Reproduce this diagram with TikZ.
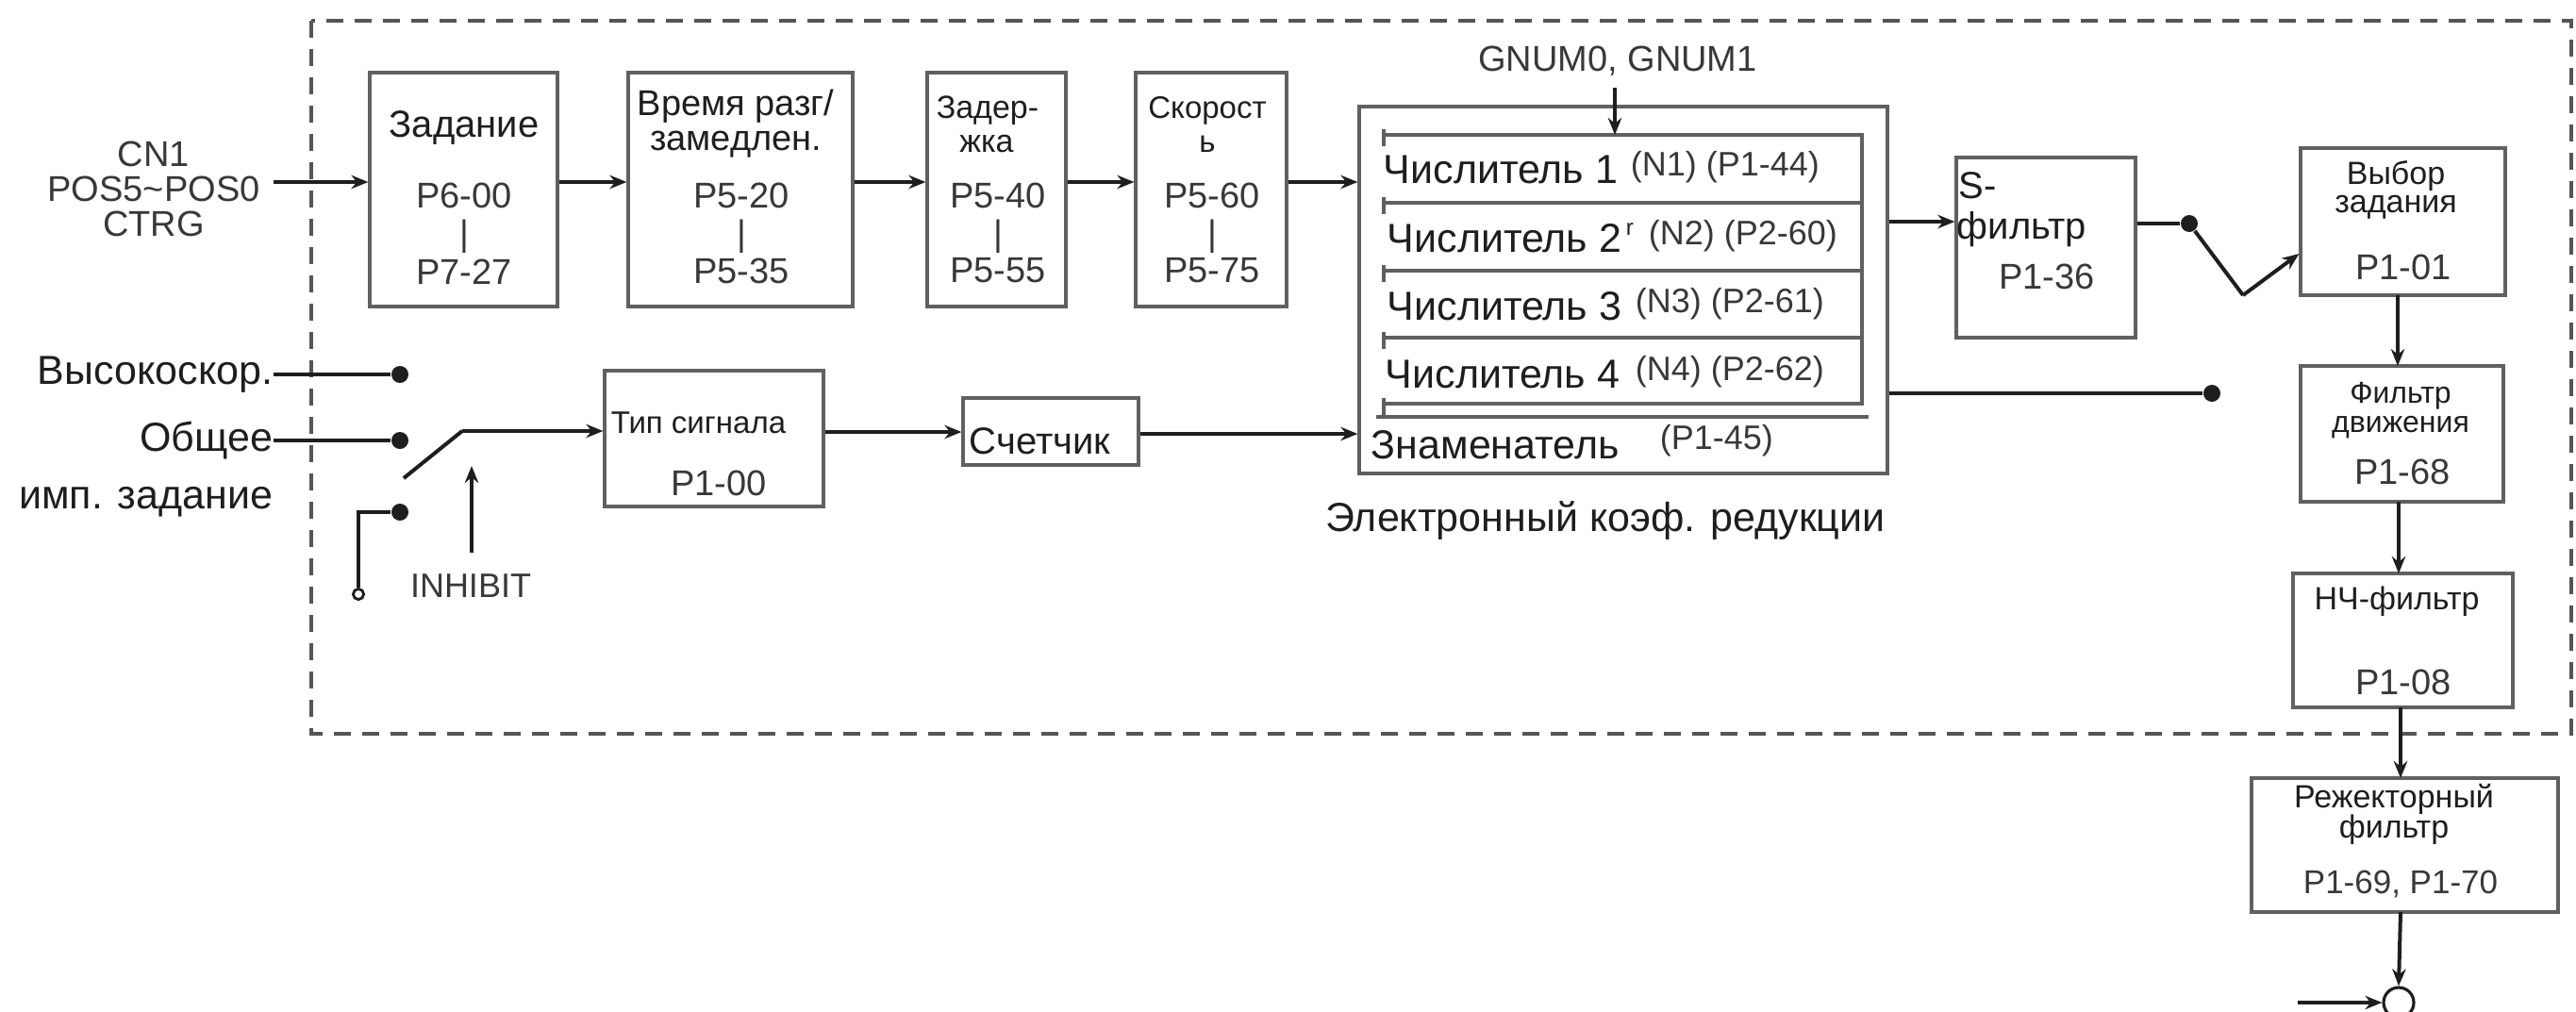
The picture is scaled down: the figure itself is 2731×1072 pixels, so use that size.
\documentclass[tikz,border=0pt]{standalone}
\usepackage{fontspec}
\setmainfont{Liberation Sans}
\usetikzlibrary{arrows.meta,fit,calc}
\definecolor{ink}{HTML}{1E1E1E}
\definecolor{par}{HTML}{383838}
\definecolor{boxc}{HTML}{606060}
\definecolor{dashc}{HTML}{555555}
\newcommand{\myfs}[1]{\fontsize{#1pt}{#1pt}\selectfont}
\begin{document}
\begin{tikzpicture}[x=0.25pt,y=-0.25pt,
  blk/.style={draw=boxc, line width=0.8pt, inner sep=0pt},
  tx/.style={inner sep=0pt, text=ink},
  big/.style={tx, font=\myfs{10.75}},
  mid/.style={tx, font=\myfs{9.5}},
  sml/.style={tx, font=\myfs{8.5}},
  prm/.style={inner sep=0pt, text=par, font=\myfs{9.5}},
  nprm/.style={inner sep=0pt, text=par, font=\myfs{9}},
  arr/.style={draw=ink, line width=1pt, -{Stealth[length=4.5pt,width=3.6pt]}},
  wire/.style={draw=ink, line width=1pt},
  dot/.style={circle, fill=ink, inner sep=0pt, minimum size=4.5pt},
  dashbox/.style={draw=dashc, line width=1pt, dash pattern=on 4.5pt off 3pt}
]
\path[use as bounding box] (0,0) rectangle (2731,1072);

% dashed frame
\draw[dashbox] (330,22) rectangle (2726,778);

% row reference coordinates
\coordinate (rowA) at (0,193);
\coordinate (rowB) at (0,458);

% CN1 input
\node[prm, align=center, font=\fontsize{9.5pt}{9.25pt}\selectfont] (cn) at (163,200) {CN1\\POS5\textasciitilde POS0\\CTRG};

% top chain boxes
\node[blk, fit={(392,77) (591,325)}] (zad) {};
\node[mid, font=\myfs{10}] (zadT) at (492,136) {Задание};
\node[prm] (zadP1) at (492,207) {P6-00};
\node[prm] (zadP2) at (492,251) {|};
\node[prm] (zadP3) at (492,288) {P7-27};

\node[blk, fit={(666,77) (904,325)}] (vr) {};
\node[mid] (vrT1) at (780,113) {Время разг/};
\node[mid] (vrT2) at (780,153) {замедлен.};
\node[prm] (vrP1) at (786,207) {P5-20};
\node[prm] (vrP2) at (786,251) {|};
\node[prm] (vrP3) at (786,287) {P5-35};

\node[blk, fit={(983,77) (1130,325)}] (zd) {};
\node[sml] (zdT1) at (1047,117) {Задер-};
\node[sml] (zdT2) at (1046,153) {жка};
\node[prm] (zdP1) at (1058,207) {P5-40};
\node[prm] (zdP2) at (1058,251) {|};
\node[prm] (zdP3) at (1058,287) {P5-55};

\node[blk, fit={(1204,77) (1364,325)}] (sk) {};
\node[sml, font=\myfs{8.25}] (skT1) at (1280,117) {Скорост};
\node[sml, font=\myfs{8.25}] (skT2) at (1280,153) {ь};
\node[prm] (skP1) at (1285,207) {P5-60};
\node[prm] (skP2) at (1285,251) {|};
\node[prm] (skP3) at (1285,287) {P5-75};

\draw[arr] ($(cn.east |- rowA)+(14,0)$) -- (zad.west |- rowA);
\draw[arr] (zad.east |- rowA) -- (vr.west |- rowA);
\draw[arr] (vr.east |- rowA) -- (zd.west |- rowA);
\draw[arr] (zd.east |- rowA) -- (sk.west |- rowA);

% electronic gear box
\node[blk, fit={(1441,113) (2001,502)}] (eg) {};
\node[inner sep=0pt, fit={(1467,143) (1974,428)}] (num) {};
\draw[boxc, line width=0.8pt] (1467,143) -- (1974,143) -- (1974,428) -- (1467,428);
\foreach \yy in {215,287,358} {\draw[boxc, line width=0.8pt] (1467,\yy) -- (1974,\yy);}
\foreach \yy in {143,215,287,358,428} {\draw[boxc, line width=0.8pt] (1467,\yy-6) -- (1467,\yy+12);}
\draw[boxc, line width=0.8pt] (1459,442) -- (1981,442);

\node[big, anchor=west] (n1) at (1466,180) {Числитель 1};
\node[nprm, anchor=west] (n1p) at (1728,177) {(N1) (P1-44)};
\node[big, anchor=west] (n2) at (1470,253) {Числитель 2};
\node[tx, font=\myfs{6}, anchor=west] (n2r) at ($(n2.east)+(3,-10)$) {r};
\node[nprm, anchor=west] (n2p) at (1747,250) {(N2) (P2-60)};
\node[big, anchor=west] (n3) at (1470,325) {Числитель 3};
\node[nprm, anchor=west] (n3p) at (1733,322) {(N3) (P2-61)};
\node[big, anchor=west] (n4) at (1468,397) {Числитель 4};
\node[nprm, anchor=west] (n4p) at (1733,394) {(N4) (P2-62)};
\node[big, anchor=west] (den) at (1453,472) {Знаменатель};
\node[nprm, anchor=west] (denp) at (1759,467) {(P1-45)};
\node[big] (egT) at (1702,552) {Электронный коэф. редукции};

\node[prm] (gnum) at (1715,65) {GNUM0, GNUM1};
\draw[arr] (1712,93) -- (1712,143);
\draw[arr] (sk.east |- rowA) -- (eg.west |- rowA);

% S-filter
\node[blk, fit={(2074,167) (2264,358)}] (sf) {};
\node[mid, font=\myfs{10}, anchor=west] (sfT1) at (2076,197) {S-};
\node[mid, font=\myfs{10}, anchor=west] (sfT2) at (2074,243) {фильтр};
\node[prm] (sfP) at (2170,293) {P1-36};
\coordinate (rowS) at (0,235);
\draw[arr] (eg.east |- rowS) -- (sf.west |- rowS);

% selector switch
\node[dot] (ds1) at (2321,237) {};
\node[dot] (ds2) at (2345,417) {};
\draw[wire] (sf.east |- ds1) -- (ds1);
\draw[wire] (eg.east |- ds2) -- (ds2);
\coordinate (sw) at (2378,313);

% command selection and filters
\node[blk, fit={(2439,157) (2656,313)}] (sel) {};
\node[sml] (selT1) at (2540,187) {Выбор};
\node[sml] (selT2) at (2540,220) {задания};
\node[prm] (selP) at (2548,283) {P1-01};
\draw[wire] (ds1) -- (sw);
\draw[arr] (sw) -- (sel.west |- 0,269);

\node[blk, fit={(2439,388) (2654,532)}] (mf) {};
\node[sml, font=\myfs{8}] (mfT1) at (2545,420) {Фильтр};
\node[sml, font=\myfs{8}] (mfT2) at (2545,453) {движения};
\node[prm] (mfP) at (2547,500) {P1-68};

\node[blk, fit={(2431,608) (2664,750)}] (lp) {};
\node[sml] (lpT) at (2541,638) {НЧ-фильтр};
\node[prm] (lpP) at (2548,723) {P1-08};

\node[blk, fit={(2387,825) (2712,967)}] (nf) {};
\node[sml] (nfT1) at (2538,847) {Режекторный};
\node[sml] (nfT2) at (2538,880) {фильтр};
\node[prm, font=\myfs{8.75}] (nfP) at (2545,938) {P1-69, P1-70};

\draw[arr] (2542,313) -- (2542,388);
\draw[arr] (2543,532) -- (2543,608);
\draw[arr] (2545,750) -- (2545,825);

\node[circle, draw=ink, line width=0.8pt, minimum size=8pt, inner sep=0pt] (sum) at (2543,1063) {};
\draw[arr] (2545,967) -- (sum.north);
\coordinate (sumin) at (2436,1063);
\draw[arr] (sumin) -- (sum.west);

% pulse inputs
\node[big, anchor=east] (hs) at (290,397) {Высокоскор.};
\node[big, anchor=east] (ob) at (290,467) {Общее};
\node[big, anchor=east] (imp) at (290,532) {имп. задание};
\node[dot] (d1) at (424,397) {};
\node[dot] (d2) at (424,467) {};
\node[dot] (d3) at (424,543) {};
\draw[wire] (hs.east) -- (d1);
\draw[wire] (ob.east |- d2) -- (d2);
\node[circle, draw=ink, line width=0.7pt, fill=white, minimum size=2.8pt, inner sep=0pt] (oc) at (380,630) {};
\coordinate (k3) at (380,543);
\draw[wire] (d3) -- (k3) -- (oc.north);

\node[blk, fit={(641,393) (873,537)}] (ts) {};
\node[sml, font=\myfs{8.25}, anchor=west] (tsT) at (647,448) {Тип сигнала};
\node[prm] (tsP) at (762,512) {P1-00};
\node[blk, fit={(1021,422) (1207,493)}] (ct) {};
\node[mid, font=\myfs{10}, anchor=west] (ctT) at (1027,468) {Счетчик};

\coordinate (bl1) at (428,507);
\coordinate (bl2) at (490,457);
\draw[wire] (bl1) -- (bl2);
\draw[arr] (bl2) -- (ts.west |- bl2);
\node[prm, font=\myfs{9}] (inh) at (499,621) {INHIBIT};
\coordinate (inhs) at (500,586);
\coordinate (inht) at (500,494);
\draw[arr] (inhs) -- (inht);

\draw[arr] (ts.east |- rowB) -- (ct.west |- rowB);
\draw[arr] (ct.east |- 0,460) -- (eg.west |- 0,460);
\end{tikzpicture}
\end{document}
